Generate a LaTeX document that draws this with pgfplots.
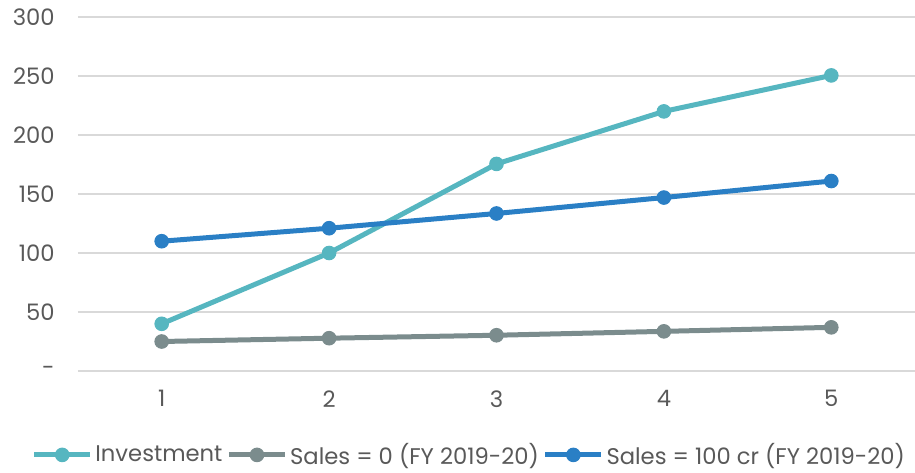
\documentclass[border=0pt]{standalone}
\usepackage{pgfplots}
\pgfplotsset{compat=1.18}
\usepackage{fontspec}
\setmainfont{Poppins}
\definecolor{cteal}{HTML}{56B6C0}
\definecolor{cgray}{HTML}{7B8C8D}
\definecolor{cblue}{HTML}{2A7FC5}
\definecolor{ctext}{HTML}{595959}
\definecolor{cgrid}{HTML}{D9D9D9}
\begin{document}
\begin{tikzpicture}[x=0.75pt,y=0.75pt]
\begin{axis}[
  scale only axis, width=627.75pt, height=265.5pt,
  xmin=0.5, xmax=5.5, ymin=0, ymax=300,
  xtick={1,2,3,4,5},
  ytick={0,50,100,150,200,250,300},
  yticklabels={-,50,100,150,200,250,300},
  axis line style={draw=none},
  tick style={draw=none},
  ymajorgrids, grid style={cgrid, line width=1.5pt},
  /pgf/number format/assume math mode=true,
  ticklabel style={font=\fontsize{17}{20}\selectfont, text=ctext},
  yticklabel style={anchor=east, xshift=-14pt},
  xticklabel style={anchor=north, yshift=-11pt},
  legend style={at={(0.468,-0.237)}, anchor=center, draw=none, legend columns=-1,
    font=\fontsize{17}{20}\selectfont, text=ctext, inner sep=0pt,
    /tikz/every even column/.append style={column sep=1pt}},
  legend image code/.code={
    \draw[#1, mark=none] (0pt,0pt) -- (42pt,0pt);
    \draw[#1, only marks] plot coordinates {(21pt,0pt)};
  },
  every axis plot/.append style={line width=3.75pt, mark=*, mark size=5.1pt, mark options={solid, line width=0.75pt}},
]
\coordinate (bl) at (rel axis cs:0,0);
\addplot[color=cteal] coordinates {(1,40) (2,100) (3,175.5) (4,220) (5,250.5)};
\addlegendentry{Investment}
\addplot[color=cgray] coordinates {(1,25) (2,27.8) (3,30.3) (4,33.6) (5,37)};
\addlegendentry{Sales = 0 (FY 2019-20)}
\addplot[color=cblue] coordinates {(1,110) (2,121) (3,133.5) (4,147) (5,161)};
\addlegendentry{Sales = 100 cr (FY 2019-20)}
\end{axis}
\pgfresetboundingbox
\path[use as bounding box] (bl) ++(-78,-101) rectangle ++(915,472);
\end{tikzpicture}
\end{document}
